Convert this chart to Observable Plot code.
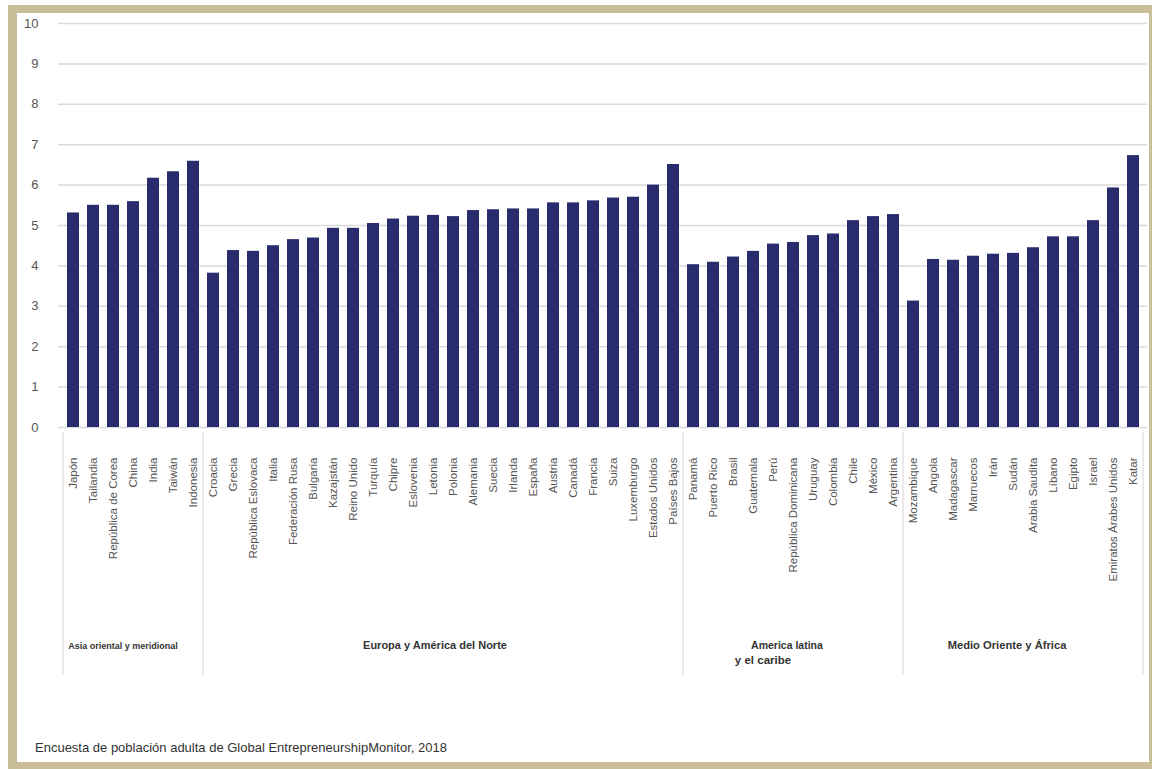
<!DOCTYPE html>
<html>
<head>
<meta charset="utf-8">
<script src="https://cdn.jsdelivr.net/npm/d3@7"></script>
<script src="https://cdn.jsdelivr.net/npm/@observablehq/plot@0.6"></script>
<style>
  html, body { margin: 0; padding: 0; background: #fff; }
  body { width: 1152px; height: 769px; position: relative; overflow: hidden; font-family: "Liberation Sans", Arial, sans-serif; }
  #frame { position: absolute; left: 8px; top: 5px; width: 1132px; height: 749px; border-style: solid; border-color: #c9be98; border-width: 8px 3px 7px 9px; }
  #chart { position: absolute; left: 0; top: 0; }
  #caption { position: absolute; left: 35px; top: 740px; font-size: 13px; color: #333; }
</style>
</head>
<body>
<div id="frame"></div>
<div id="chart"></div>
<div id="caption">Encuesta de población adulta de Global EntrepreneurshipMonitor, 2018</div>
<script>
const countries = [
  "Japón", "Tailandia", "República de Corea", "China", "India", "Taiwán", "Indonesia",
  "Croacia", "Grecia", "República Eslovaca", "Italia", "Federación Rusa", "Bulgaria", "Kazajstán",
  "Reino Unido", "Turquía", "Chipre", "Eslovenia", "Letonia", "Polonia", "Alemania", "Suecia",
  "Irlanda", "España", "Austria", "Canadá", "Francia", "Suiza", "Luxemburgo", "Estados Unidos",
  "Países Bajos",
  "Panamá", "Puerto Rico", "Brasil", "Guatemala", "Perú", "República Dominicana", "Uruguay",
  "Colombia", "Chile", "México", "Argentina",
  "Mozambique", "Angola", "Madagascar", "Marruecos", "Irán", "Sudán", "Arabia Saudita", "Líbano",
  "Egipto", "Israel", "Emiratos Árabes Unidos", "Katar"
];
const values = [
  5.31, 5.50, 5.50, 5.59, 6.17, 6.33, 6.59,
  3.82, 4.38, 4.36, 4.50, 4.65, 4.69, 4.93,
  4.93, 5.05, 5.16, 5.23, 5.25, 5.22, 5.37, 5.39,
  5.41, 5.41, 5.56, 5.56, 5.61, 5.68, 5.70, 6.00,
  6.51,
  4.03, 4.09, 4.22, 4.36, 4.54, 4.58, 4.75,
  4.79, 5.12, 5.22, 5.27,
  3.13, 4.16, 4.14, 4.24, 4.29, 4.31, 4.45, 4.72,
  4.72, 5.12, 5.93, 6.73
];
const regionNames = [
  ["Asia oriental y meridional"],
  ["Europa y América del Norte"],
  ["America latina", "y el caribe"],
  ["Medio Oriente y África"]
];
const regionFirst = ["Japón", "Croacia", "Panamá", "Mozambique"];
const regionLast = ["Indonesia", "Países Bajos", "Argentina", "Katar"];
const yTicks = [0, 1, 2, 3, 4, 5, 6, 7, 8, 9, 10];

const data = countries.map((c, i) => ({country: c, value: values[i]}));

function regionMark(index, scales, vals, dimensions) {
  const x = scales.x;
  const bw = typeof x.bandwidth === "function" ? x.bandwidth() : x.bandwidth;
  const step = x(countries[1]) - x(countries[0]);
  const gap = (step - bw) / 2;
  const y0 = dimensions.height - dimensions.marginBottom;
  const g = d3.create("svg:g");
  const bounds = regionFirst.map(c => x(c) - gap);
  bounds.push(x(regionLast[regionLast.length - 1]) + bw + gap);
  g.selectAll("line").data(bounds).join("line")
    .attr("x1", d => d).attr("x2", d => d)
    .attr("y1", y0 + 5).attr("y2", y0 + 248)
    .attr("stroke", "#dcdcdc").attr("stroke-width", 1.2);
  const sizes = [9, 11, 10.5, 11.2];
  const shifts = [-10, -8, -6, -16];
  regionNames.forEach((lines, i) => {
    const cx = (bounds[i] + bounds[i + 1]) / 2 + shifts[i];
    const t = g.append("text")
      .attr("x", cx).attr("y", y0 + 222)
      .attr("text-anchor", "middle")
      .attr("font-weight", "bold")
      .attr("font-size", sizes[i])
      .attr("fill", "#333");
    lines.forEach((line, j) => {
      const ts = t.append("tspan").text(line);
      if (j > 0) ts.attr("x", cx - 24).attr("dy", 15).attr("font-size", 11.5);
    });
  });
  return g.node();
}

const chart = Plot.plot({
  width: 1152,
  height: 690,
  marginTop: 23,
  marginBottom: 263,
  marginLeft: 58,
  marginRight: 5,
  style: {fontFamily: "'Liberation Sans', Arial, sans-serif", background: "transparent"},
  x: {domain: countries, padding: 0.4, paddingOuter: 0.2, insetLeft: 5, insetRight: 4, label: null},
  y: {domain: [0, 10], label: null},
  marks: [
    Plot.gridY(yTicks, {stroke: "#dadada", strokeOpacity: 1, strokeWidth: 1.5}),
    Plot.barY(data, {x: "country", y: "value", fill: "#282c6c"}),
    Plot.axisY(yTicks, {tickSize: 0, tickPadding: 20, fontSize: 13, fill: "#555", label: null}),
    Plot.axisX({tickSize: 0, tickPadding: 30, tickRotate: -90, fontSize: 11.5, fill: "#555", label: null}),
    regionMark
  ]
});
document.getElementById("chart").appendChild(chart);
</script>
</body>
</html>
